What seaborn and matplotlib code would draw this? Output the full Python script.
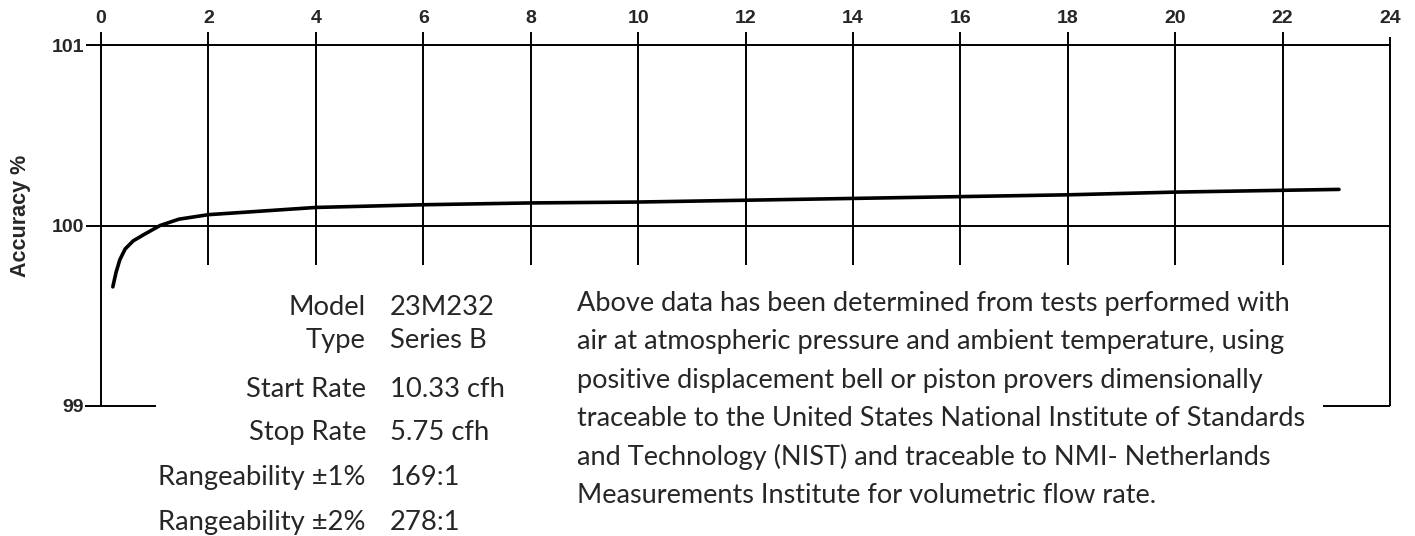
import matplotlib
matplotlib.use("Agg")
import pandas as pd
import seaborn as sns
import matplotlib.pyplot as plt

# ========= Datos =========
caudal = [0.22, 0.28, 0.35, 0.45, 0.6, 0.8, 1.1, 1.45, 2, 3, 4, 6, 8,
          10, 12, 14, 16, 18, 20, 22, 23.05]
exactitud = [99.66, 99.74, 99.81, 99.87, 99.915, 99.95, 100.0, 100.035,
             100.06, 100.08, 100.1, 100.115, 100.125, 100.13, 100.14,
             100.15, 100.16, 100.17, 100.185, 100.195, 100.2]

x_ticks = list(range(0, 25, 2))
y_ticks = [99, 100, 101]

etiquetas_spec = ["Model", "Type", "Start Rate", "Stop Rate",
                  "Rangeability \u00b11%", "Rangeability \u00b12%"]
valores_spec = ["23M232", "Series B", "10.33 cfh", "5.75 cfh", "169:1", "278:1"]

nota = [
    "Above data has been determined from tests performed with",
    "air at atmospheric pressure and ambient temperature, using",
    "positive displacement bell or piston provers dimensionally",
    "traceable to the United States National Institute of Standards",
    "and Technology (NIST) and traceable to NMI- Netherlands",
    "Measurements Institute for volumetric flow rate.",
]

W, H = 1415, 536
sns.set_theme(style="white")
plt.rcParams["font.family"] = ["Liberation Sans", "DejaVu Sans"]


def fx(px):
    return px / W


def fy(py):
    return 1 - py / H


df = pd.DataFrame({"caudal": caudal, "exactitud": exactitud})

fig = plt.figure(figsize=(W / 100, H / 100), dpi=100)
ax = fig.add_axes([fx(101), fy(406), fx(1390) - fx(101), fy(45) - fy(406)])
ax.set_xlim(0, 24)
ax.set_ylim(99, 101)
for s in ax.spines.values():
    s.set_visible(False)

# rejilla a mano (lineas verticales cortas y horizontales)
kw = dict(color="black", lw=1.4, clip_on=False)
for x in x_ticks:
    if x == 0:
        ax.vlines(x, 99, 101.07, **kw)
    elif x == 24:
        ax.vlines(x, 99, 101.045, **kw)
    else:
        ax.vlines(x, 99.78, 101.07, **kw)
ax.hlines([101, 100], -0.27, 24, **kw)
ax.hlines(99, -0.3, 1.03, **kw)
ax.hlines(99, 22.75, 24, **kw)

# curva de exactitud
sns.lineplot(data=df, x="caudal", y="exactitud", ax=ax, color="black",
             lw=2.6, sort=False, clip_on=False)

ax.xaxis.tick_top()
ax.set_xticks(x_ticks)
ax.set_xticklabels([str(x) for x in x_ticks], fontsize=14, fontweight="bold")
ax.set_yticks(y_ticks)
ax.set_yticklabels([str(y) for y in y_ticks], fontsize=14, fontweight="bold")
ax.tick_params(axis="x", length=0, pad=13)
ax.tick_params(axis="y", length=0, pad=12)
ax.set_xlabel("")
ax.set_ylabel("")

fig.text(fx(21), fy(216), "Accuracy %", rotation=90, ha="center", va="center",
         fontsize=15.5, fontweight="bold")

# bloque de especificaciones
fuente_txt = ["Lato", "DejaVu Sans"]
base_spec = [315, 348, 397, 440, 485, 530]
for etiqueta, valor, yb in zip(etiquetas_spec, valores_spec, base_spec):
    fig.text(fx(366), fy(yb), etiqueta, ha="right", va="baseline",
             fontsize=19.7, family=fuente_txt)
    fig.text(fx(390), fy(yb), valor, ha="left", va="baseline",
             fontsize=19.7, family=fuente_txt)

# nota al pie
for i, linea in enumerate(nota):
    fig.text(fx(577), fy(311 + 38.4 * i), linea, ha="left", va="baseline",
             fontsize=19.5, family=fuente_txt)

fig.savefig("out.png", dpi=100)
